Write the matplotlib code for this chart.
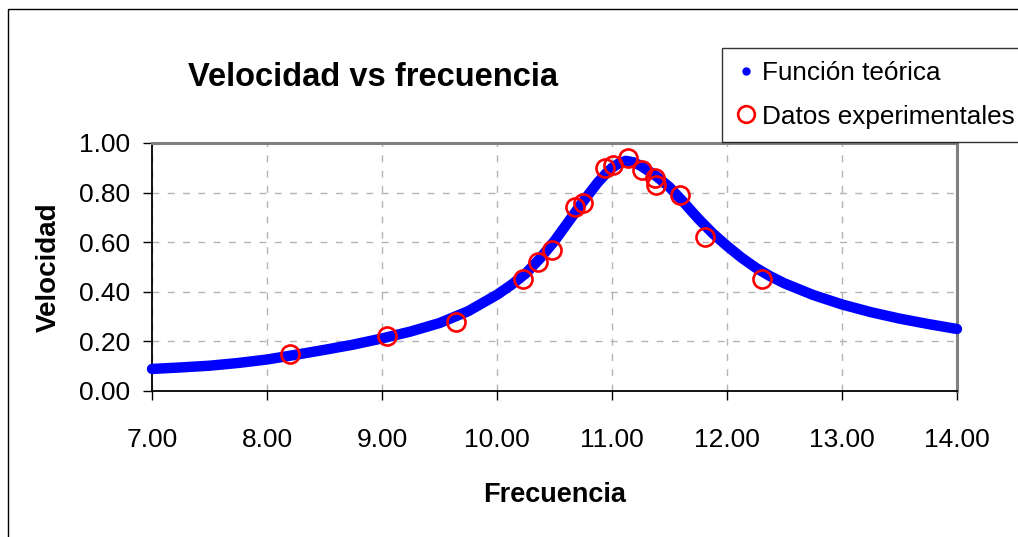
import matplotlib
matplotlib.use("Agg")
import matplotlib.pyplot as plt
from matplotlib.lines import Line2D
from matplotlib.patches import Rectangle
from matplotlib.ticker import FormatStrFormatter

plt.rcParams['font.family'] = ['Liberation Sans', 'DejaVu Sans']

# theoretical curve
f_teo = [7.00, 7.25, 7.50, 7.75, 8.00, 8.25, 8.50, 8.75, 9.00, 9.25, 9.50, 9.75,
         10.00, 10.125, 10.25, 10.375, 10.50, 10.625, 10.75, 10.875, 10.95, 11.00,
         11.06, 11.12, 11.19, 11.25, 11.375, 11.50, 11.625, 11.75, 11.875, 12.00,
         12.125, 12.25, 12.375, 12.50, 12.75, 13.00, 13.25, 13.50, 13.75, 14.00]
v_teo = [0.089, 0.095, 0.102, 0.113, 0.127, 0.146, 0.166, 0.187, 0.212, 0.240, 0.274, 0.322,
         0.388, 0.428, 0.474, 0.535, 0.605, 0.685, 0.765, 0.840, 0.878, 0.900,
         0.918, 0.928, 0.922, 0.908, 0.870, 0.822, 0.760, 0.695, 0.636, 0.585,
         0.538, 0.497, 0.463, 0.434, 0.387, 0.349, 0.318, 0.292, 0.270, 0.250]

# experimental points
f_exp = [8.20, 9.04, 9.64, 10.23, 10.36, 10.48, 10.68, 10.75, 10.94, 11.01,
         11.14, 11.26, 11.37, 11.38, 11.59, 11.81, 12.30]
v_exp = [0.15, 0.22, 0.28, 0.45, 0.52, 0.57, 0.74, 0.76, 0.90, 0.91,
         0.94, 0.89, 0.86, 0.83, 0.79, 0.62, 0.45]

W, H = 1018, 537
fig = plt.figure(figsize=(W / 100, H / 100), dpi=100)
ax = fig.add_axes([152 / W, 1 - 391 / H, (957 - 152) / W, (391 - 143) / H])

ax.plot(f_teo, v_teo, color='#0000ff', lw=7.5, solid_capstyle='round',
        solid_joinstyle='round', clip_on=False, zorder=3)
ax.plot(f_exp, v_exp, linestyle='none', marker='o', markersize=13,
        markerfacecolor='none', markeredgecolor='#ff0000', markeredgewidth=1.9,
        clip_on=False, zorder=4)

ax.set_xlim(7, 14)
ax.set_ylim(0, 1)
ax.set_xticks([7, 8, 9, 10, 11, 12, 13, 14])
ax.set_yticks([0, 0.2, 0.4, 0.6, 0.8, 1.0])
ax.xaxis.set_major_formatter(FormatStrFormatter('%.2f'))
ax.yaxis.set_major_formatter(FormatStrFormatter('%.2f'))
ax.tick_params(axis='both', direction='out', length=6.5, width=1, colors='black',
               labelsize=19)
ax.tick_params(axis='x', pad=20)
ax.tick_params(axis='y', pad=9)

ax.grid(True, color='#b4b4b4', linestyle=(0, (5, 6)), linewidth=1)
ax.set_axisbelow(True)

for s in ['left', 'bottom']:
    ax.spines[s].set_color('black')
    ax.spines[s].set_linewidth(1.3)
for s in ['top', 'right']:
    ax.spines[s].set_color('#808080')
    ax.spines[s].set_linewidth(2.2)

ax.set_xlabel('Frecuencia', fontsize=19.5, fontweight='bold')
ax.set_ylabel('Velocidad', fontsize=20, fontweight='bold')
ax.xaxis.set_label_coords(0.5, -0.365)
ax.yaxis.set_label_coords(-0.112, 0.5)

fig.text(188 / W, 1 - 77 / H, 'Velocidad vs frecuencia', fontsize=23.5,
         fontweight='bold', ha='left', va='center')

# chart area border (right/bottom fall off the picture)
fig.add_artist(Rectangle((8 / W, -0.2), 1.5, 1.2 - 9 / H, fill=False,
                         edgecolor='black', lw=1, transform=fig.transFigure))

handles = [Line2D([], [], linestyle='none', marker='o', markersize=5,
                  color='#0000ff'),
           Line2D([], [], linestyle='none', marker='o', markersize=12,
                  markerfacecolor='none', markeredgecolor='#ff0000',
                  markeredgewidth=1.9)]
leg = ax.legend(handles, ['Función teórica', 'Datos experimentales'],
                loc='upper left', bbox_to_anchor=(722 / W, 1 - 48 / H),
                bbox_transform=fig.transFigure, borderaxespad=0, fontsize=18.8,
                frameon=True, fancybox=False, edgecolor='black',
                handlelength=0.8, handletextpad=0.24, borderpad=0.5,
                labelspacing=0.75)
leg.get_frame().set_linewidth(1)

fig.savefig('out.png', dpi=100)
